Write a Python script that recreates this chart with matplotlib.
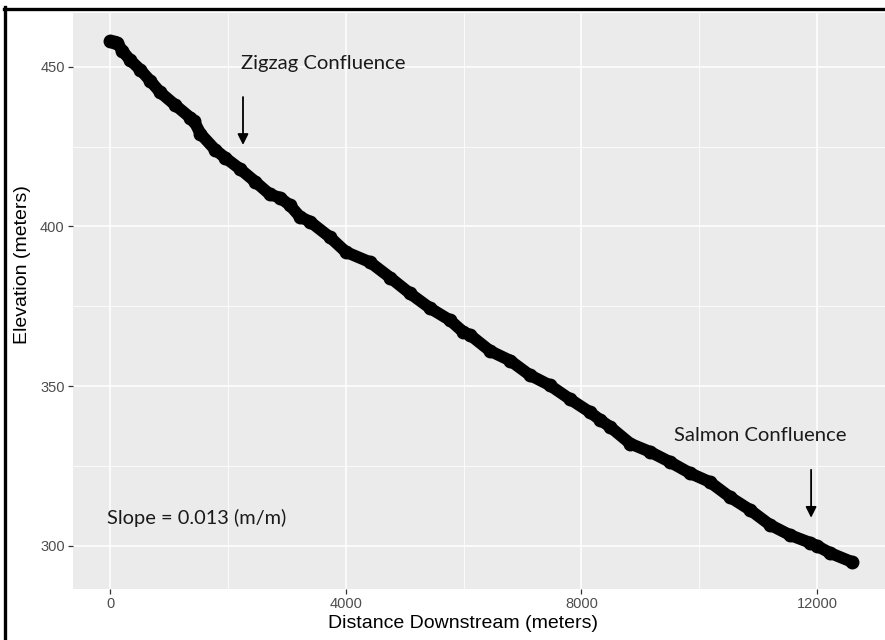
import matplotlib
matplotlib.use("Agg")
import matplotlib.pyplot as plt
from matplotlib.lines import Line2D

distance = [0, 60, 120, 200, 340, 510, 680, 845, 1100, 1360, 1420, 1530, 1780, 1950,
            2200, 2460, 2710, 2880, 3050, 3220, 3390, 3730, 4000, 4410, 4750, 5090,
            5430, 5770, 5990, 6110, 6450, 6790, 7120, 7460, 7800, 8140, 8320, 8490,
            8830, 9170, 9510, 9840, 10180, 10520, 10860, 11200, 11540, 11880, 12000,
            12220, 12590]
elevation = [458, 457.8, 457.5, 455, 452, 449, 445.5, 442, 438, 434, 433, 429, 424, 421.5,
             418, 414, 410, 409, 406.6, 403, 401.5, 396.6, 392, 388.8, 384, 379,
             374.4, 370.6, 367, 366, 361, 358, 353.5, 350.3, 346, 341.9, 339.4, 337.2,
             332, 329.4, 326.2, 322.8, 320, 315.3, 311.3, 306.6, 303.4, 301, 300,
             297.8, 295]

x_ticks = [0, 4000, 8000, 12000]
y_ticks = [300, 350, 400, 450]
x_minor = [2000, 6000, 10000]
y_minor = [325, 375, 425]

fig = plt.figure(figsize=(8.85, 6.4), dpi=100)
ax = fig.add_axes([73/885, 1-589/640, 1-73/885, (589-13)/640])
ax.set_facecolor('#EBEBEB')
ax.set_xlim(-635, 13155)
ax.set_ylim(286.5, 466.8)

for v in x_ticks:
    ax.axvline(v, color='white', lw=1.1, zorder=0)
for v in x_minor:
    ax.axvline(v, color='white', lw=0.55, zorder=0)
for v in y_ticks:
    ax.axhline(v, color='white', lw=1.1, zorder=0)
for v in y_minor:
    ax.axhline(v, color='white', lw=0.55, zorder=0)

ax.plot(distance, elevation, color='black', lw=8.5, solid_capstyle='round',
        solid_joinstyle='round', marker='o', ms=9, zorder=3)

for s in ax.spines.values():
    s.set_visible(False)
ax.set_xticks(x_ticks)
ax.set_yticks(y_ticks)
ax.set_xticklabels([str(v) for v in x_ticks])
ax.set_yticklabels([str(v) for v in y_ticks])
ax.tick_params(axis='both', length=3.5, width=0.9, color='#333333',
               labelcolor='#4D4D4D', labelsize=10.5, pad=2.5)
for lab in ax.get_xticklabels() + ax.get_yticklabels():
    lab.set_family('Liberation Sans')

ann_font = 'Lato'
ax.text(3610, 451, 'Zigzag Confluence', ha='center', va='center', fontsize=14.6,
        family=ann_font, color='#1a1a1a')
ax.annotate('', xy=(2252, 425.5), xytext=(2252, 440.5),
            arrowprops=dict(arrowstyle='-|>', color='black', lw=1.3,
                            mutation_scale=16, shrinkA=0, shrinkB=0))
ax.text(11030, 334.4, 'Salmon Confluence', ha='center', va='center', fontsize=14.6,
        family=ann_font, color='#1a1a1a')
ax.annotate('', xy=(11900, 308.8), xytext=(11900, 323.8),
            arrowprops=dict(arrowstyle='-|>', color='black', lw=1.3,
                            mutation_scale=16, shrinkA=0, shrinkB=0))
ax.text(-55, 308.8, 'Slope = 0.013 (m/m)', ha='left', va='center', fontsize=14.4,
        family=ann_font, color='#1a1a1a')

fig.text(463/885, 1-624/640, 'Distance Downstream (meters)', ha='center', va='center',
         fontsize=14, family='Liberation Sans')
fig.text(23/885, 1-265/640, 'Elevation (meters)', ha='center', va='center',
         rotation=90, fontsize=14, family='Liberation Sans')

fig.add_artist(Line2D([5/885, 5/885], [0, 1-7/640], transform=fig.transFigure,
                      color='black', lw=2.4))
fig.add_artist(Line2D([4/885, 1], [1-8.5/640, 1-8.5/640], transform=fig.transFigure,
                      color='black', lw=2.4))

fig.savefig('out.png', dpi=100)
